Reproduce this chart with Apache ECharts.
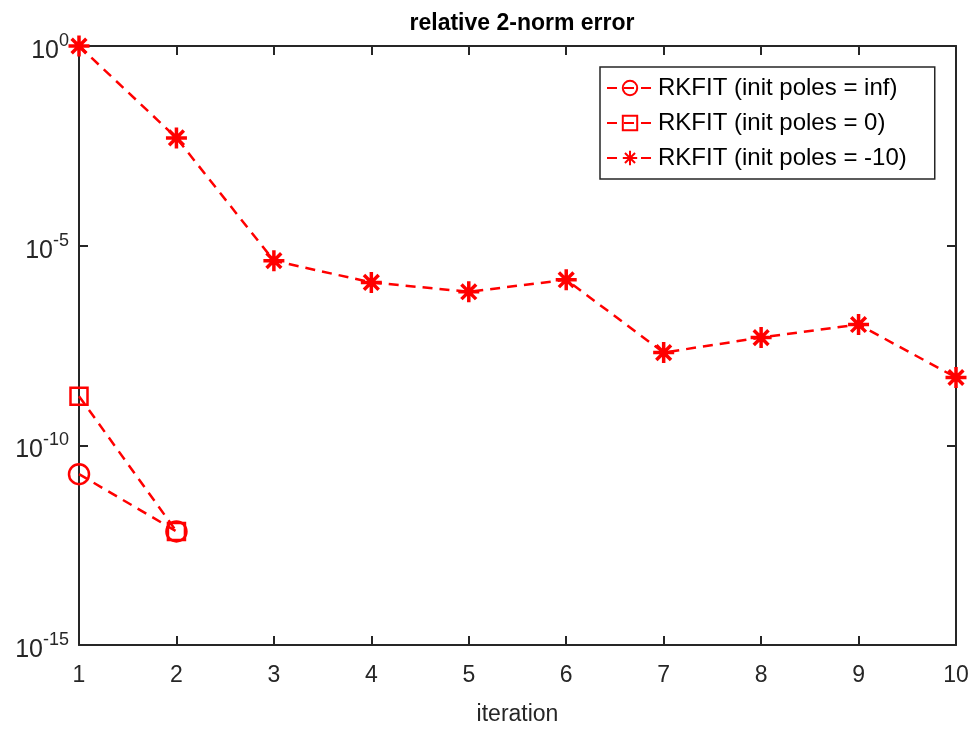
<!DOCTYPE html>
<html>
<head>
<meta charset="utf-8">
<script src="https://cdn.jsdelivr.net/npm/echarts@6/dist/echarts.min.js"></script>
<style>
  html, body { margin: 0; padding: 0; background: #fff; }
  #chart { width: 976px; height: 731px; }
</style>
</head>
<body>
<div id="chart"></div>
<script>
// iterations 1..10
const iterations = [1, 2, 3, 4, 5, 6, 7, 8, 9, 10];

// relative 2-norm error per iteration
const errPolesInf = [1.9e-11, 7.0e-13];
const errPolesZero = [1.7e-9, 7.0e-13];
const errPolesMinus10 = [1.0, 5.0e-3, 4.2e-6, 1.2e-6, 7.0e-7, 1.4e-6, 2.1e-8, 5.0e-8, 1.06e-7, 5.0e-9];

const seriesNames = [
  'RKFIT (init poles = inf)',
  'RKFIT (init poles = 0)',
  'RKFIT (init poles = -10)',
];

const RED = '#ff0000';
const AXIS = '#262626';
const FONT = '"Liberation Sans", Arial, sans-serif';

// asterisk marker: + and x on top of each other
const asterisk = 'path://M10 0 L10 20 M0 10 L20 10 M3 3 L17 17 M3 17 L17 3';

const toPairs = (ys) => ys.map((y, i) => [iterations[i], y]);

const myChart = echarts.init(document.getElementById('chart'));

const baseSeries = (name, data, symbol, size) => ({
  name: name,
  type: 'line',
  data: toPairs(data),
  symbol: symbol,
  symbolSize: size,
  showAllSymbol: true,
  lineStyle: { color: RED, width: 2.5, type: [10, 7] },
  itemStyle: { color: 'rgba(0,0,0,0)', borderColor: RED, borderWidth: 2.5 },
  emphasis: { disabled: true },
  animation: false,
});

const option = {
  backgroundColor: '#fff',
  title: {
    text: 'relative 2-norm error',
    left: 517,
    top: 7,
    textAlign: 'center',
    textStyle: { fontFamily: FONT, fontSize: 23, fontWeight: 'bold', color: '#000' },
  },
  legend: {
    orient: 'vertical',
    left: 600,
    top: 67,
    padding: [9, 28, 9, 6],
    itemGap: 11,
    itemWidth: 46,
    itemHeight: 18,
    backgroundColor: '#fff',
    borderColor: AXIS,
    borderWidth: 1.5,
    borderRadius: 0,
    textStyle: { fontFamily: FONT, fontSize: 24, color: '#000' },
    data: seriesNames,
  },
  grid: { left: 79, right: 20, top: 46, bottom: 83 },
  xAxis: [
    {
      type: 'value',
      min: 1,
      max: 10,
      interval: 1,
      name: 'iteration',
      nameLocation: 'middle',
      nameGap: 58,
      nameTextStyle: { fontFamily: FONT, fontSize: 23, color: AXIS },
      axisLine: { lineStyle: { color: AXIS, width: 2 } },
      axisTick: { inside: true, length: 9, lineStyle: { color: AXIS, width: 2 } },
      axisLabel: { fontFamily: FONT, fontSize: 23, color: AXIS, margin: 19 },
      splitLine: { show: false },
    },
    {
      type: 'value',
      position: 'top',
      min: 1,
      max: 10,
      interval: 1,
      axisLine: { onZero: false, lineStyle: { color: AXIS, width: 2 } },
      axisTick: { inside: true, length: 9, lineStyle: { color: AXIS, width: 2 } },
      axisLabel: { show: false },
      splitLine: { show: false },
    },
  ],
  yAxis: [
    {
      type: 'log',
      logBase: 10,
      min: 1e-15,
      max: 1,
      interval: 5,
      axisLine: { show: true, onZero: false, lineStyle: { color: AXIS, width: 2 } },
      axisTick: { show: true, inside: true, length: 9, lineStyle: { color: AXIS, width: 2 } },
      axisLabel: {
        margin: 10,
        formatter: (v) => '{b|10}{s|' + Math.round(Math.log10(v)) + '}',
        rich: {
          b: { fontFamily: FONT, fontSize: 25, color: AXIS, padding: [10, 0, 0, 0] },
          s: { fontFamily: FONT, fontSize: 18, color: AXIS, padding: [0, 0, 10, 0] },
        },
      },
      splitLine: { show: false },
    },
    {
      type: 'log',
      logBase: 10,
      min: 1e-15,
      max: 1,
      interval: 5,
      position: 'right',
      axisLine: { show: true, onZero: false, lineStyle: { color: AXIS, width: 2 } },
      axisTick: { show: true, inside: true, length: 9, lineStyle: { color: AXIS, width: 2 } },
      axisLabel: { show: false },
      splitLine: { show: false },
    },
  ],
  series: [
    baseSeries(seriesNames[0], errPolesInf, 'circle', 20),
    baseSeries(seriesNames[1], errPolesZero, 'rect', 17),
    Object.assign(baseSeries(seriesNames[2], errPolesMinus10, asterisk, 21), {
      itemStyle: { color: RED, borderColor: RED, borderWidth: 3.5 },
    }),
  ],
};

option && myChart.setOption(option);
</script>
</body>
</html>
